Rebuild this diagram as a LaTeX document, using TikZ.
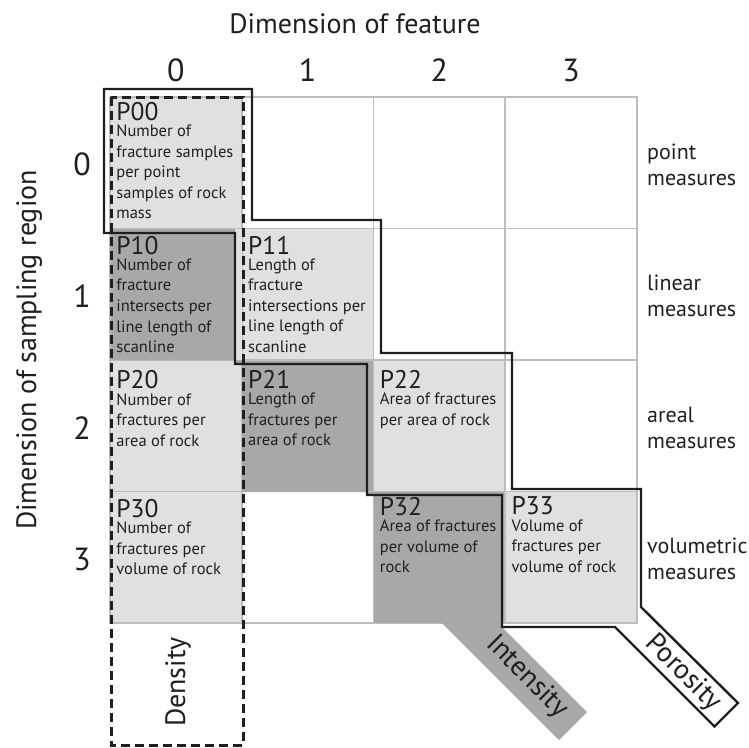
\documentclass[tikz,border=0pt]{standalone}
\usepackage{fontspec}
\setmainfont{PT Sans}
\usepackage{tikz}
\usetikzlibrary{positioning}
\definecolor{claro}{gray}{0.88}
\definecolor{oscuro}{gray}{0.66}
\definecolor{rejilla}{gray}{0.74}
\definecolor{trazo}{gray}{0.12}

\begin{document}
\begin{tikzpicture}[
        x=1pt, y=-1pt,
        celda/.style={
            rectangle,
            draw=rejilla,
            line width=1.6pt,
            minimum width=131.75pt,
            minimum height=131.5pt,
            inner sep=0pt
        },
        codigo/.style={
            anchor=north west,
            inner sep=0pt,
            text=trazo,
            font=\fontsize{25.5}{25.5}\selectfont
        },
        descripcion/.style={
            inner sep=0pt,
            align=left,
            text=trazo,
            font=\fontsize{16.5}{20.5}\selectfont
        },
        eje/.style={
            inner sep=0pt,
            text=trazo,
            font=\fontsize{28}{30}\selectfont
        },
        numero/.style={
            inner sep=0pt,
            text=trazo,
            font=\fontsize{32}{32}\selectfont
        },
        medida/.style={
            anchor=west,
            align=left,
            inner sep=0pt,
            text=trazo,
            font=\fontsize{22}{26}\selectfont
        },
        banda/.style={
            inner sep=0pt,
            text=trazo,
            font=\fontsize{28}{28}\selectfont
        },
        escalera/.style={
            draw=trazo,
            line width=2.4pt,
            line join=miter
        },
        discontinua/.style={
            draw=trazo,
            line width=3pt,
            dash pattern=on 9pt off 5pt
        }
    ]

    \useasboundingbox (0,0) rectangle (749,747);

    % celdas de la matriz
    \node[celda, fill=claro] (c00) at (175.875,162.75) {};
    \node[celda] (c01) at (307.625,162.75) {};
    \node[celda] (c02) at (439.375,162.75) {};
    \node[celda] (c03) at (571.125,162.75) {};

    \node[celda, fill=oscuro] (c10) at (175.875,294.25) {};
    \node[celda, fill=claro] (c11) at (307.625,294.25) {};
    \node[celda] (c12) at (439.375,294.25) {};
    \node[celda] (c13) at (571.125,294.25) {};

    \node[celda, fill=claro] (c20) at (175.875,425.75) {};
    \node[celda, fill=oscuro] (c21) at (307.625,425.75) {};
    \node[celda, fill=claro] (c22) at (439.375,425.75) {};
    \node[celda] (c23) at (571.125,425.75) {};

    \node[celda, fill=claro] (c30) at (175.875,557.25) {};
    \node[celda] (c31) at (307.625,557.25) {};
    \node[celda, fill=oscuro] (c32) at (439.375,557.25) {};
    \node[celda, fill=claro] (c33) at (571.125,557.25) {};

    % banda de intensidad
    \fill[oscuro] (111,233) -- (235,233) -- (235,364) -- (367,364)
        -- (367,495) -- (502,495) -- (502,627) -- (587,712) -- (559,740)
        -- (442,623) -- (374,623) -- (374,492) -- (242,492) -- (242,360)
        -- (111,360) -- cycle;
    \fill[claro] (235,228.5) rectangle (241.75,360);

    % textos de las celdas
    \node[codigo] (p00) at ([shift={(7pt,-6pt)}]c00.north west) {P00};
    \node[descripcion, below right=4pt and 0pt of p00.south west] (d00) {
        Number of\\fracture samples\\per point\\samples of rock\\mass};

    \node[codigo] (p10) at ([shift={(7pt,-8pt)}]c10.north west) {P10};
    \node[descripcion, below right=4pt and 0pt of p10.south west] (d10) {
        Number of\\fracture\\intersects per\\line length of\\scanline};

    \node[codigo] (p11) at ([shift={(7pt,-8pt)}]c11.north west) {P11};
    \node[descripcion, below right=4pt and 0pt of p11.south west] (d11) {
        Length of\\fracture\\intersections per\\line length of\\scanline};

    \node[codigo] (p20) at ([shift={(7pt,-11pt)}]c20.north west) {P20};
    \node[descripcion, below right=4pt and 0pt of p20.south west] (d20) {
        Number of\\fractures per\\area of rock};

    \node[codigo] (p21) at ([shift={(7pt,-11pt)}]c21.north west) {P21};
    \node[descripcion, below right=4pt and 0pt of p21.south west] (d21) {
        Length of\\fractures per\\area of rock};

    \node[codigo] (p22) at ([shift={(7pt,-11pt)}]c22.north west) {P22};
    \node[descripcion, below right=4pt and 0pt of p22.south west] (d22) {
        Area of fractures\\per area of rock};

    \node[codigo] (p30) at ([shift={(7pt,-8pt)}]c30.north west) {P30};
    \node[descripcion, below right=4pt and 0pt of p30.south west] (d30) {
        Number of\\fractures per\\volume of rock};

    \node[codigo] (p32) at ([shift={(7pt,-6pt)}]c32.north west) {P32};
    \node[descripcion, below right=4pt and 0pt of p32.south west] (d32) {
        Area of fractures\\per volume of\\rock};

    \node[codigo] (p33) at ([shift={(7pt,-6pt)}]c33.north west) {P33};
    \node[descripcion, below right=4pt and 0pt of p33.south west] (d33) {
        Volume of\\fractures per\\volume of rock};

    % contorno de porosidad y densidad
    \draw[escalera] (104,89) -- (252,89) -- (252,220) -- (381,220)
        -- (381,353) -- (512,353) -- (512,489) -- (641,489) -- (641,607)
        -- (738,703) -- (714.5,726.5) -- (615,627) -- (502,627)
        -- (502,495) -- (367,495) -- (367,364) -- (235,364) -- (235,233)
        -- (104,233) -- cycle;

    \draw[discontinua] (111,97) rectangle (243,745);

    % rotulos de las bandas
    \node[banda, rotate=90] (densidad) at (178,682) {Density};
    \node[banda, rotate=-45] (intensidad) at (527,677) {Intensity};
    \node[banda, rotate=-45] (porosidad) at (683,673) {Porosity};

    % ejes
    \node[eje, anchor=base] (ejex) at (355,33) {Dimension of feature};
    \node[eje, rotate=90, anchor=base] (ejey) at (36,350) {Dimension of sampling region};

    \node[numero, anchor=base] (col0) at (175.875,81) {0};
    \node[numero, anchor=base] (col1) at (307.625,81) {1};
    \node[numero, anchor=base] (col2) at (439.375,81) {2};
    \node[numero, anchor=base] (col3) at (571.125,81) {3};

    \node[numero] (fila0) at (82,164.75) {0};
    \node[numero] (fila1) at (82,296.25) {1};
    \node[numero] (fila2) at (82,427.75) {2};
    \node[numero] (fila3) at (82,559.25) {3};

    % medidas
    \node[medida] (puntual) at (647,165) {point\\measures};
    \node[medida] (lineal) at (647,296) {linear\\measures};
    \node[medida] (areal) at (647,428) {areal\\measures};
    \node[medida] (volumetrica) at (647,559) {volumetric\\measures};

\end{tikzpicture}
\end{document}
